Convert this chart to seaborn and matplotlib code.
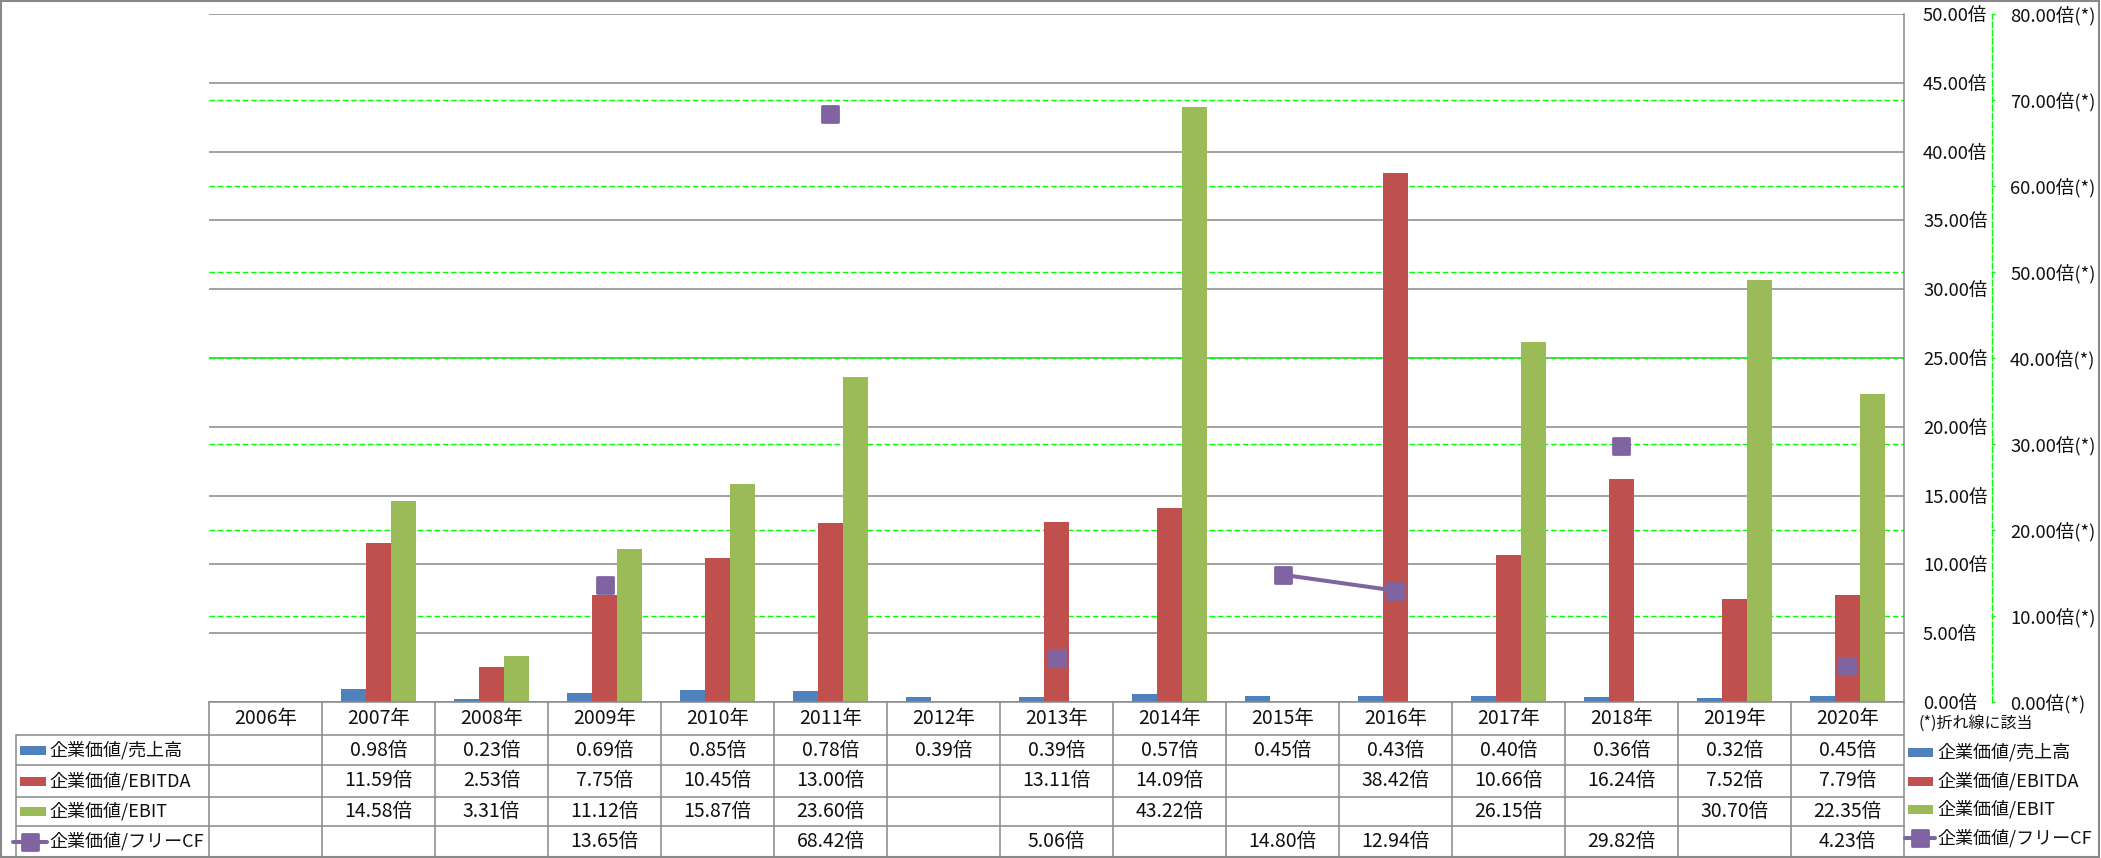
import numpy as np
import pandas as pd
import matplotlib
matplotlib.use("Agg")
import matplotlib.pyplot as plt
import matplotlib.transforms as mtransforms
from matplotlib.lines import Line2D
from matplotlib.patches import Rectangle
from matplotlib.markers import MarkerStyle
import seaborn as sns

nan = np.nan
years = ['2006年', '2007年', '2008年', '2009年', '2010年', '2011年', '2012年', '2013年',
         '2014年', '2015年', '2016年', '2017年', '2018年', '2019年', '2020年']
ev_sales = [nan, 0.98, 0.23, 0.69, 0.85, 0.78, 0.39, 0.39, 0.57, 0.45, 0.43, 0.40, 0.36, 0.32, 0.45]
ev_ebitda = [nan, 11.59, 2.53, 7.75, 10.45, 13.00, nan, 13.11, 14.09, nan, 38.42, 10.66, 16.24, 7.52, 7.79]
ev_ebit = [nan, 14.58, 3.31, 11.12, 15.87, 23.60, nan, nan, 43.22, nan, nan, 26.15, nan, 30.70, 22.35]
ev_fcf = [nan, nan, nan, 13.65, nan, 68.42, nan, 5.06, nan, 14.80, 12.94, nan, 29.82, nan, 4.23]
series_names = ['企業価値/売上高', '企業価値/EBITDA', '企業価値/EBIT', '企業価値/フリーCF']
colors = ['#4F81BD', '#C0504D', '#9BBB59', '#8064A2']
primary_ticks = np.arange(0, 50.01, 5)
secondary_ticks = np.arange(0, 80.01, 10)
note_text = '(*)折れ線に該当'

sns.set_theme(style='white')
plt.rcParams['font.family'] = ['Noto Sans CJK JP', 'DejaVu Sans']

W, H = 2101, 858
fig = plt.figure(figsize=(W / 100, H / 100), dpi=100)
fig.patch.set_facecolor('white')
L, R, T, B = 209, 1904, 14, 702
ax = fig.add_axes([L / W, 1 - B / H, (R - L) / W, (B - T) / H])

def fy(y):
    return 1 - y / H

def fx(x):
    return x / W

GRAY = '#898989'
GREEN = '#00FF00'
FS = 14
FS_TICK = 13.3
FS_LEG = 13
TXT = '#111111'

# bars
bar_series = [ev_sales, ev_ebitda, ev_ebit]
df = pd.DataFrame({
    'year': years * 3,
    'value': sum(bar_series, []),
    'series': sum([[n] * len(years) for n in series_names[:3]], []),
})
sns.barplot(data=df, x='year', y='value', hue='series', order=years,
            hue_order=series_names[:3], palette=colors[:3], width=0.664, gap=0,
            errorbar=None, saturation=1, linewidth=0, legend=False, ax=ax, zorder=2)

# secondary axis + line
ax2 = ax.twinx()

ax.set_xlim(-0.5, len(years) - 0.5)
ax.set_ylim(0, 50)
ax.set_axisbelow(True)
ax.yaxis.tick_right()
ax.yaxis.set_label_position('right')
ax.set_yticks(primary_ticks)
ax.set_yticklabels([f'{v:.2f}倍' for v in primary_ticks])
ax.tick_params(axis='y', length=0, pad=13.7, labelsize=FS_TICK, labelcolor=TXT,
               left=False, labelleft=False, right=True, labelright=True)
ax.tick_params(axis='x', length=0, labelbottom=False)
ax.set_xlabel('')
ax.set_ylabel('')
ax.yaxis.grid(True, color=GRAY, lw=1.1)
ax.xaxis.grid(False)
for s in ['left', 'top']:
    ax.spines[s].set_visible(False)
for s in ['bottom', 'right']:
    ax.spines[s].set_color(GRAY)
    ax.spines[s].set_linewidth(1.1)

# secondary gridlines (behind bars)
for t in secondary_ticks[1:-1]:
    ax.axhline(t * 50 / 80, color=GREEN, ls=(0, (4, 2)), lw=1.0, zorder=0.6)

ax2.set_ylim(0, 80)
xs = np.arange(len(years))
ms = MarkerStyle('s', joinstyle='round')
ax2.plot(xs, ev_fcf, color=colors[3], lw=2.9, marker=ms, ms=11, mew=2,
         mec=colors[3], mfc=colors[3], zorder=5)
ax2.set_yticks(secondary_ticks)
ax2.set_yticklabels([f'{v:.2f}倍(*)' for v in secondary_ticks])
ax2.tick_params(axis='y', direction='out', length=2, width=1, color=GREEN, pad=11,
                labelsize=FS_TICK, labelcolor=TXT)
ax2.grid(False)
for s in ['left', 'top', 'bottom']:
    ax2.spines[s].set_visible(False)
ax2.spines['right'].set_position(('outward', 63.4))
ax2.spines['right'].set_color(GREEN)
ax2.spines['right'].set_linestyle((0, (4, 2)))
ax2.spines['right'].set_linewidth(1.0)
ax2.set_ylabel('')

# table
blend = mtransforms.blended_transform_factory(ax.transData, fig.transFigure)
lw_t = 1.1
def hline(x0, x1, y):
    fig.add_artist(Line2D([fx(x0), fx(x1)], [fy(y), fy(y)], color=GRAY, lw=lw_t,
                          transform=fig.transFigure))
def vline(x, y0, y1):
    fig.add_artist(Line2D([fx(x), fx(x)], [fy(y0), fy(y1)], color=GRAY, lw=lw_t,
                          transform=fig.transFigure))

row_lines = [735, 765, 797, 826]
for y in row_lines:
    hline(16, R, y)
vline(16, 735, 857)
vline(R, B, 857)
for i in range(len(years)):
    xb = i - 0.5
    fig.add_artist(Line2D([xb, xb], [fy(B), fy(857)], color=GRAY, lw=lw_t, transform=blend))

# border
fig.add_artist(Rectangle((fx(1), fy(857)), fx(2098), (856) / H, fill=False,
                         ec=GRAY, lw=1.5, transform=fig.transFigure))

header_y = (B + 735) / 2
row_y = [750, 781, 811.5, 841.5]
for i, yr in enumerate(years):
    fig.text(i, fy(header_y), yr, transform=blend, ha='center', va='center',
             fontsize=FS, color=TXT)
for r, vals in enumerate([ev_sales, ev_ebitda, ev_ebit, ev_fcf]):
    for i, v in enumerate(vals):
        if not np.isnan(v):
            fig.text(i, fy(row_y[r]), f'{v:.2f}倍', transform=blend, ha='center',
                     va='center', fontsize=FS, color=TXT)

# legend keys (left column and right side)
def key(x0, x1, y, idx):
    if idx < 3:
        fig.add_artist(Rectangle((fx(x0), fy(y + 4.5)), fx(x1 - x0), 9 / H, fc=colors[idx],
                                 ec='none', transform=fig.transFigure))
    else:
        fig.add_artist(Line2D([fx(x0), fx(x1)], [fy(y), fy(y)], color=colors[3], lw=2.9,
                              transform=fig.transFigure))
        fig.add_artist(Line2D([fx((x0 + x1) / 2)], [fy(y)], color=colors[3], lw=0,
                              marker=ms, ms=11, mew=2, mec=colors[3], mfc=colors[3],
                              transform=fig.transFigure))

for r in range(4):
    if r < 3:
        key(20, 46, row_y[r], r)
    else:
        key(13, 47, row_y[r], r)
    fig.text(fx(49), fy(row_y[r]), series_names[r], ha='left', va='center',
             fontsize=FS_LEG, color=TXT)

right_y = [752, 781, 809, 838]
for r in range(4):
    if r < 3:
        key(1908, 1933, right_y[r], r)
    else:
        key(1905, 1935, right_y[r], r)
    fig.text(fx(1937), fy(right_y[r]), series_names[r], ha='left', va='center',
             fontsize=FS_LEG, color=TXT)

fig.text(fx(1918), fy(723), note_text, ha='left', va='center', fontsize=11.5, color=TXT)

fig.savefig('out.png', dpi=100, facecolor='white')
